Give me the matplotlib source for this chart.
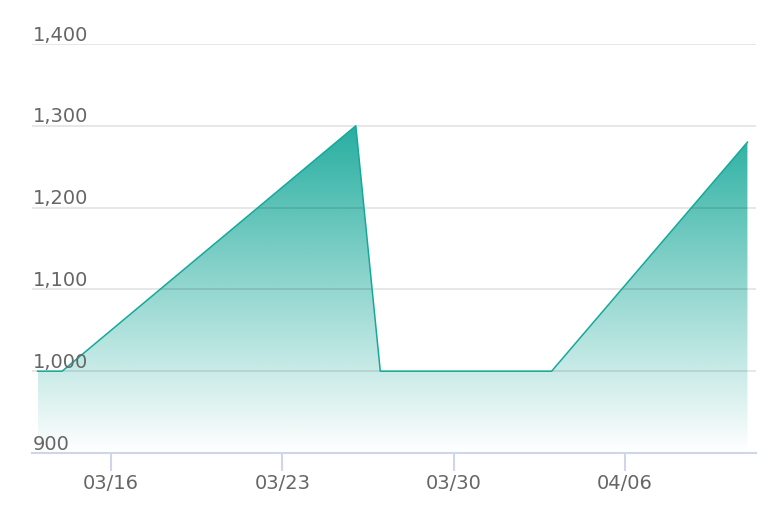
import numpy as np
import matplotlib
matplotlib.use('Agg')
import matplotlib.pyplot as plt
import matplotlib.dates as mdates
from datetime import datetime

# data
dates = ['2024-03-13', '2024-03-14', '2024-03-26', '2024-03-27', '2024-04-03', '2024-04-11']
values = [1000, 1000, 1300, 1000, 1000, 1280]
y_ticks = [900, 1000, 1100, 1200, 1300, 1400]
y_labels = ['900', '1,000', '1,100', '1,200', '1,300', '1,400']
x_ticks = ['2024-03-16', '2024-03-23', '2024-03-30', '2024-04-06']
x_labels = ['03/16', '03/23', '03/30', '04/06']

line_color = '#17a89a'
axis_color = '#cfd6e8'
text_color = '#666666'

x = mdates.date2num([datetime.strptime(d, '%Y-%m-%d') for d in dates])
xt = mdates.date2num([datetime.strptime(d, '%Y-%m-%d') for d in x_ticks])

fig = plt.figure(figsize=(7.82, 5.30), dpi=100)
ax = fig.add_axes([32 / 782, (530 - 453) / 530, (756 - 32) / 782, (453 - 44) / 530])

# gradient fill under the line: same colour, alpha ramps up
ymin, ymax = 900, max(values)
rgba = np.zeros((256, 1, 4))
rgba[..., 0], rgba[..., 1], rgba[..., 2] = 0.09, 0.66, 0.60
rgba[:, 0, 3] = np.linspace(0.0, 0.93, 256)
img = ax.imshow(rgba, origin='lower', aspect='auto',
                extent=[x[0], x[-1], ymin, ymax], zorder=1, interpolation='bilinear')
clip = plt.Polygon(np.column_stack([np.r_[x, x[-1], x[0]], np.r_[values, ymin, ymin]]),
                   transform=ax.transData, facecolor='none', edgecolor='none')
ax.add_patch(clip)
img.set_clip_path(clip)
ax.set_xlim(x[0] - 0.23, x[-1] + 0.35)
ax.set_ylim(900, 1400)

ax.plot(x, values, color=line_color, lw=1.1, zorder=3)

# grid lines (translucent so they show through the fill)
for v in y_ticks[1:]:
    ax.axhline(v, color='black', alpha=0.1, lw=1.3, zorder=2)
for v, lab in zip(y_ticks, y_labels):
    ax.annotate(lab, xy=(0, v), xycoords=('axes fraction', 'data'),
                xytext=(0.5, 2.5), textcoords='offset points',
                ha='left', va='baseline', fontsize=14, color=text_color, zorder=5)

for s in ['top', 'right', 'left']:
    ax.spines[s].set_visible(False)
ax.spines['bottom'].set_color(axis_color)
ax.spines['bottom'].set_linewidth(1.5)
ax.set_yticks([])
ax.set_xticks(xt)
ax.set_xticklabels(x_labels)
ax.tick_params(axis='x', length=13, width=1.5, color=axis_color, pad=2,
               labelsize=14, labelcolor=text_color)

fig.savefig('out.png', dpi=100)
